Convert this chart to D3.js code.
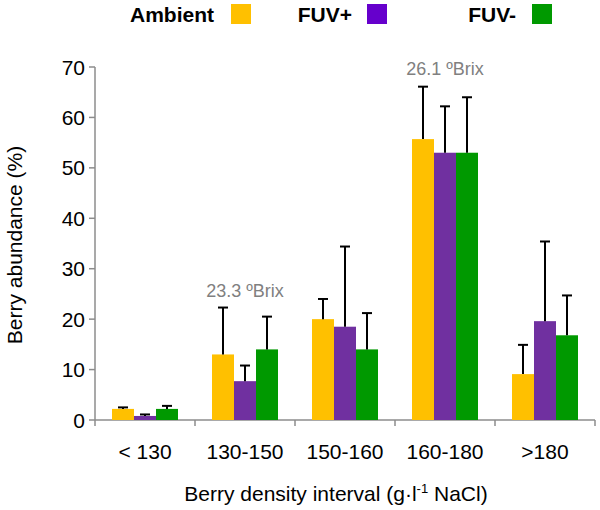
<!DOCTYPE html>
<html><head><meta charset="utf-8">
<script src="https://cdn.jsdelivr.net/npm/d3@7"></script>
<style>body{margin:0;background:#fff}svg{display:block}</style>
</head><body>
<script>
const categories = ["< 130", "130-150", "150-160", "160-180", ">180"];
const seriesNames = ["Ambient", "FUV+", "FUV-"];
const ambient = [2.2, 13.0, 20.0, 55.7, 9.1];
const fuvPlus = [0.8, 7.7, 18.5, 53.0, 19.6];
const fuvMinus = [2.2, 14.0, 14.0, 53.0, 16.8];
const ambientErr = [0.3, 9.3, 4.0, 10.4, 5.8];
const fuvPlusErr = [0.3, 3.1, 15.9, 9.2, 15.8];
const fuvMinusErr = [0.6, 6.5, 7.2, 11.0, 7.9];
const yTicks = [0, 10, 20, 30, 40, 50, 60, 70];
const annotations = [{cat: "130-150", text: "23.3 ºBrix", y: 25.6}, {cat: "160-180", text: "26.1 ºBrix", y: 69.7}];

const colors = ["#FFC000", "#7030A0", "#009900"];
const legendColors = ["#FFC000", "#6600CC", "#009900"];
const values = [ambient, fuvPlus, fuvMinus];
const errs = [ambientErr, fuvPlusErr, fuvMinusErr];

const W = 600, H = 510;
const svg = d3.select("body").append("svg").attr("width", W).attr("height", H)
  .style("font-family", "'Liberation Sans', Arial, sans-serif");

const x = d3.scaleBand().domain(categories).range([95, 595]);
const x1 = d3.scaleBand().domain(seriesNames).range([17, 83]);
const y = d3.scaleLinear().domain([0, 70]).range([420, 67]);

// axes
const axisColor = "#8c8c8c";
svg.append("line").attr("x1", 95).attr("x2", 95).attr("y1", y(70)).attr("y2", y(0)).attr("stroke", axisColor).attr("stroke-width", 1.5);
svg.append("line").attr("x1", 95).attr("x2", 595).attr("y1", y(0)).attr("y2", y(0)).attr("stroke", axisColor).attr("stroke-width", 1.5);
yTicks.forEach(t => {
  svg.append("line").attr("x1", 89).attr("x2", 95).attr("y1", y(t)).attr("y2", y(t)).attr("stroke", axisColor).attr("stroke-width", 1.5);
  svg.append("text").attr("x", 85).attr("y", y(t)).attr("dy", "0.36em").attr("text-anchor", "end")
    .attr("font-size", 21).attr("fill", "#000").text(t);
});
const bounds = categories.map(c => x(c)).concat([x(categories[categories.length-1]) + x.bandwidth()]);
bounds.forEach(b => {
  svg.append("line").attr("x1", b).attr("x2", b).attr("y1", y(0)).attr("y2", y(0) + 6).attr("stroke", axisColor).attr("stroke-width", 1.5);
});
categories.forEach(c => {
  svg.append("text").attr("x", x(c) + x.bandwidth()/2).attr("y", 459).attr("text-anchor", "middle")
    .attr("font-size", 21).attr("fill", "#000").text(c);
});

// bars
seriesNames.forEach((s, i) => {
  const g = svg.append("g");
  categories.forEach((c, j) => {
    const bx = x(c) + x1(s);
    g.append("rect").attr("x", bx).attr("y", y(values[i][j])).attr("width", x1.bandwidth())
      .attr("height", y(0) - y(values[i][j])).attr("fill", colors[i]);
  });
});
// error bars
seriesNames.forEach((s, i) => {
  categories.forEach((c, j) => {
    const cx = x(c) + x1(s) + x1.bandwidth()/2;
    const top = y(values[i][j] + errs[i][j]);
    svg.append("line").attr("x1", cx).attr("x2", cx).attr("y1", y(values[i][j])).attr("y2", top).attr("stroke", "#000").attr("stroke-width", 2);
    svg.append("line").attr("x1", cx - 5).attr("x2", cx + 5).attr("y1", top).attr("y2", top).attr("stroke", "#000").attr("stroke-width", 2);
  });
});

// annotations
annotations.forEach(a => {
  svg.append("text").attr("x", x(a.cat) + x.bandwidth()/2).attr("y", y(a.y)).attr("dy", "0.36em")
    .attr("text-anchor", "middle").attr("font-size", 18).attr("fill", "#808080").text(a.text);
});

// axis titles
svg.append("text").attr("transform", "translate(22,245) rotate(-90)").attr("text-anchor", "middle")
  .attr("font-size", 21).attr("fill", "#000").text("Berry abundance (%)");
const xt = svg.append("text").attr("x", 336).attr("y", 501).attr("text-anchor", "middle").attr("font-size", 21).attr("fill", "#000");
xt.append("tspan").text("Berry density interval (g·l");
xt.append("tspan").attr("dy", -8).attr("font-size", 13).text("-1");
xt.append("tspan").attr("dy", 8).text(" NaCl)");

// legend
const legendPos = [{tx: 214, sx: 231}, {tx: 352, sx: 367}, {tx: 516, sx: 532}];
seriesNames.forEach((s, i) => {
  svg.append("text").attr("x", legendPos[i].tx).attr("y", 22).attr("text-anchor", "end")
    .attr("font-size", 21).attr("font-weight", "bold").attr("fill", "#000").text(s);
  svg.append("rect").attr("x", legendPos[i].sx).attr("y", 4).attr("width", 20).attr("height", 20).attr("fill", legendColors[i]);
});
</script>
</body></html>
